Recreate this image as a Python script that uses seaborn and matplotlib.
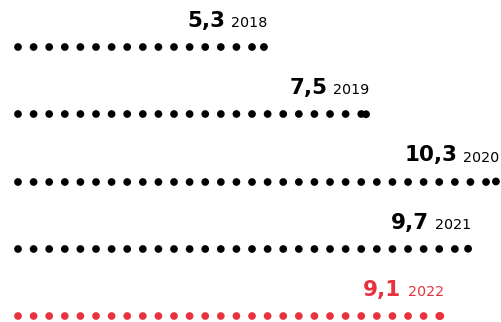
import matplotlib
matplotlib.use("Agg")
import matplotlib.pyplot as plt
import seaborn as sns
import pandas as pd

years = ["2018", "2019", "2020", "2021", "2022"]
values = [5.3, 7.5, 10.3, 9.7, 9.1]
value_labels = ["5,3", "7,5", "10,3", "9,7", "9,1"]
colors = ["#000000", "#000000", "#000000", "#000000", "#e8333f"]

sns.set_theme(style="white")
plt.rcParams["font.family"] = ["DejaVu Sans"]
plt.rcParams["lines.scale_dashes"] = False

DPI = 100
fig = plt.figure(figsize=(5.02, 3.22), dpi=DPI)
ax = fig.add_axes([0, 0, 1, 1])

rows = list(range(len(years)))
df = pd.DataFrame({
    "year": [y for y in years for _ in range(2)],
    "x": [v for val in values for v in (0.0, val)],
    "row": [r for r in rows for _ in range(2)],
})
palette = dict(zip(years, colors))

lw_px = 7.8
gap_px = 15.6
sns.lineplot(data=df, x="x", y="row", hue="year", palette=palette,
             units="year", estimator=None, sort=False, legend=False,
             linewidth=lw_px * 72 / DPI, ax=ax)
for line in ax.lines:
    line.set_dashes((0.001, gap_px * 72 / DPI))
    line.set_dash_capstyle("round")
    line.set_solid_capstyle("round")

ends = pd.DataFrame({"x": values, "row": rows, "year": years})
sns.scatterplot(data=ends, x="x", y="row", hue="year", palette=palette,
                s=(lw_px * 72 / DPI) ** 2, linewidth=0, legend=False, ax=ax)

scale = 46.4
ax.set_xlim(-18 / scale, (502 - 18) / scale)
rsp = 67.25
ax.set_ylim(4 + (322 - 316) / rsp, -47 / rsp)
ax.axis("off")

year_txts = []
for v, r, yr, c in zip(values, rows, years, colors):
    t = ax.annotate(yr, xy=(v, r), xytext=(3.5, 20), textcoords="offset pixels",
                    ha="right", va="baseline", fontsize=10.3, color=c,
                    fontweight="normal")
    year_txts.append(t)

fig.canvas.draw()
renderer = fig.canvas.get_renderer()
for t, v, r, lab, c in zip(year_txts, values, rows, value_labels, colors):
    w = t.get_window_extent(renderer).width
    ax.annotate(lab, xy=(v, r), xytext=(3.5 - w - 6, 20), textcoords="offset pixels",
                ha="right", va="baseline", fontsize=15.5, color=c,
                fontweight="bold")

fig.savefig("out.png", dpi=DPI)
